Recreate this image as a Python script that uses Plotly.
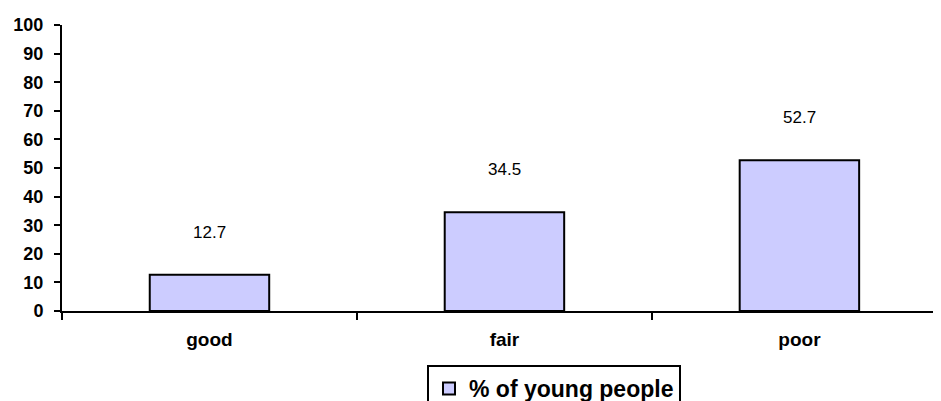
import plotly.graph_objects as go

categories = ["good", "fair", "poor"]
values = [12.7, 34.5, 52.7]
series_name = "% of young people"
y_ticks = [0, 10, 20, 30, 40, 50, 60, 70, 80, 90, 100]

FONT = "Liberation Sans, Arial, sans-serif"
# page body has an 8px margin; size the figure so it fills the 941x401 window
W, H = 933, 393

fig = go.Figure()
fig.add_trace(go.Bar(
    x=categories, y=values, name=series_name,
    marker=dict(color="#CCCCFF", line=dict(color="black", width=2)),
    width=0.405, showlegend=True,
))
for c, v in zip(categories, values):
    fig.add_annotation(x=c, y=v, text=f"{v}", showarrow=False, yanchor="bottom",
                       yshift=31, font=dict(family=FONT, size=17, color="black"))

fig.update_layout(
    width=W, height=H,
    margin=dict(l=54, r=0, t=17, b=90, autoexpand=False),
    plot_bgcolor="white", paper_bgcolor="white",
    showlegend=True,
    legend=dict(orientation="h", xref="container", yref="container",
                x=(427 - 8) / W, xanchor="left", y=(H - (365 - 8)) / H, yanchor="top",
                bordercolor="black", borderwidth=2,
                font=dict(family=FONT, size=23, color="black", weight="bold"),
                itemwidth=30),
)
fig.update_xaxes(
    range=[-0.5, 2.48], tickson="boundaries", ticks="outside", ticklen=7, tickwidth=2,
    tickcolor="black", showline=True, linecolor="black", linewidth=2,
    tickfont=dict(family=FONT, size=19, color="black", weight="bold"),
    ticklabelstandoff=10, showgrid=False, zeroline=False, automargin=False,
)
fig.update_yaxes(
    range=[0, 100], tickvals=y_ticks, ticks="outside", ticklen=6, tickwidth=2,
    tickcolor="black", showline=True, linecolor="black", linewidth=2,
    tickfont=dict(family=FONT, size=18, color="black", weight="bold"),
    showgrid=False, zeroline=False, ticklabelstandoff=7, automargin=False,
)
fig.write_html("out.html")
